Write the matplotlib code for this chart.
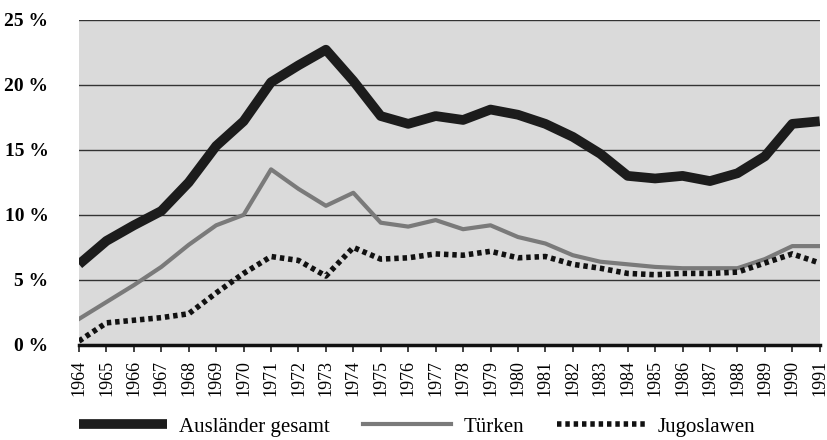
import matplotlib
matplotlib.use("Agg")
import matplotlib.pyplot as plt

plt.rcParams['font.family'] = ['Liberation Serif', 'DejaVu Serif']

years = list(range(1964, 1992))
auslaender = [6.2, 8.0, 9.2, 10.3, 12.5, 15.3, 17.2, 20.2, 21.5, 22.7, 20.3, 17.6, 17.0, 17.6,
              17.3, 18.1, 17.7, 17.0, 16.0, 14.7, 13.0, 12.8, 13.0, 12.6, 13.2, 14.5, 17.0, 17.2]
tuerken = [2.0, 3.3, 4.6, 6.0, 7.7, 9.2, 10.0, 13.5, 12.0, 10.7, 11.7, 9.4, 9.1, 9.6,
           8.9, 9.2, 8.3, 7.8, 6.9, 6.4, 6.2, 6.0, 5.9, 5.9, 5.9, 6.6, 7.6, 7.6]
jugoslawen = [0.3, 1.7, 1.9, 2.1, 2.4, 4.0, 5.5, 6.8, 6.5, 5.3, 7.5, 6.6, 6.7, 7.0,
              6.9, 7.2, 6.7, 6.8, 6.2, 5.9, 5.5, 5.4, 5.5, 5.5, 5.6, 6.3, 7.0, 6.3]
yticks = [0, 5, 10, 15, 20, 25]
ylabels = ['0 %', '5 %', '10 %', '15 %', '20 %', '25 %']

fig = plt.figure(figsize=(8.28, 4.4), dpi=100)
ax = fig.add_axes([0.0954, 0.216, 0.8946, 0.739])
ax.set_facecolor('#dadada')

for v in yticks[1:]:
    ax.axhline(v, color='#333333', lw=1.0, zorder=1)

l1, = ax.plot(years, auslaender, color='#1c1c1c', lw=7, solid_capstyle='butt', zorder=4,
              label='Ausländer gesamt')
l2, = ax.plot(years, tuerken, color='#7a7a7a', lw=3, zorder=3, label='Türken')
l3, = ax.plot(years, jugoslawen, color='#111111', lw=4, dashes=(0.8, 0.7), zorder=3,
              label='Jugoslawen')

ax.set_xlim(1964, 1991)
ax.set_ylim(0, 25)
ax.set_yticks(yticks)
ax.set_yticklabels(ylabels, fontsize=14, fontweight='bold')
ax.set_xticks(years)
ax.set_xticklabels([str(y) for y in years], rotation=90, fontsize=13)
ax.tick_params(axis='y', length=0, pad=22)
ax.tick_params(axis='x', length=5, width=1.2, direction='out', pad=6, color='#222222')

for s in ['top', 'right', 'left']:
    ax.spines[s].set_visible(False)
ax.spines['bottom'].set_linewidth(2.5)
ax.spines['bottom'].set_color('#111111')

fig.legend(handles=[l1, l2, l3], loc='lower left', bbox_to_anchor=(0.073, -0.035), ncol=3,
           frameon=False, fontsize=15, handlelength=4.2, columnspacing=1.6, handletextpad=0.6)

fig.savefig('out.png', dpi=100)
